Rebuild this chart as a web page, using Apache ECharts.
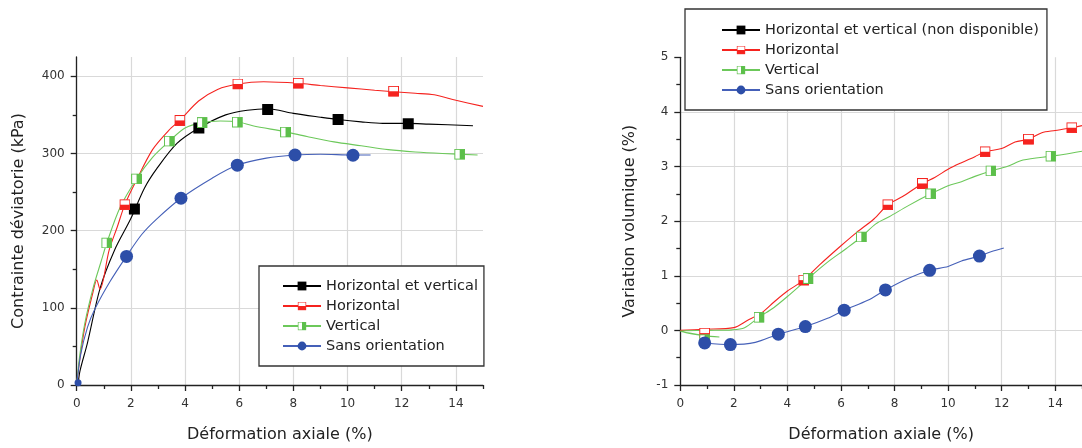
<!DOCTYPE html>
<html>
<head>
<meta charset="utf-8">
<script src="https://cdn.jsdelivr.net/npm/echarts@6/dist/echarts.min.js"></script>
<style>html,body{margin:0;padding:0;background:#fff}#c{width:1082px;height:448px}</style>
</head>
<body>
<div id="c"></div>
<script>
// ---------- DATA ----------
// Left chart: Contrainte déviatorie (kPa) vs Déformation axiale (%)
const namesLeft = ['Horizontal et vertical', 'Horizontal', 'Vertical', 'Sans orientation'];
const namesRight = ['Horizontal et vertical (non disponible)', 'Horizontal', 'Vertical', 'Sans orientation'];

const xTicks = [0, 2, 4, 6, 8, 10, 12, 14];
const xMinorTicks = [1, 3, 5, 7, 9, 11, 13, 15];
const yTicksLeft = [0, 100, 200, 300, 400];
const yMinorTicksLeft = [50, 150, 250, 350];
const yTicksRight = [-1, 0, 1, 2, 3, 4, 5];

const hvCurveL = [[0.05,0],[0.12,18],[0.4,55],[0.86,125],[1.4,175],[1.99,215],[2.5,255],[2.95,280],[3.7,313],[4.51,333],[5.5,350],[6.3,356],[7.05,358],[8,352],[9,347],[9.65,344],[10.5,341],[11.3,339],[12.24,339],[13,338],[14.63,336]];
const hvMarksL = [[2.13,228],[4.51,333],[7.05,357],[9.65,344],[12.24,338.5]];

const hCurveL = [[0,0],[0.1,30],[0.3,75],[0.6,120],[0.74,136],[0.86,124],[1.2,175],[1.5,205],[1.78,234],[2.2,265],[2.8,305],[3.4,330],[3.81,343],[4.5,368],[5.2,383],[5.95,390],[6.9,393],[8.18,391],[9,388],[10,385],[11,382],[11.7,380],[12.5,378],[13.2,376],[14,369],[15,361]];
const hMarksL = [[1.78,233.6],[3.81,342.8],[5.95,390],[8.18,391],[11.7,380.6]];

const vCurveL = [[0,0],[0.1,35],[0.3,80],[0.6,125],[0.9,160],[1.11,184],[1.6,230],[2.21,267],[2.8,295],[3.42,316],[4.0,333],[4.63,340],[5.3,342],[5.93,341],[6.5,336],[7.71,328],[8.5,322],[9.5,315],[10.5,310],[11.5,305],[12.5,302],[13.5,300],[14.8,298]];
const vMarksL = [[1.11,184],[2.21,267],[3.42,316],[4.63,340],[5.93,340.6],[7.71,327.7],[14.14,299]];

const sCurveL = [[0,0],[0.15,40],[0.4,75],[0.68,99],[1.23,134],[1.84,167],[2.4,195],[2.95,215],[3.85,242],[5,268],[5.93,285],[7,294],[8.06,298],[9,299],[10.2,298],[10.85,298]];
const sMarksL = [[0.05,3],[1.84,166.6],[3.85,242],[5.93,284.8],[8.06,298],[10.2,297.7]];

// Right chart: Variation volumique (%) vs Déformation axiale (%)
const hCurveR = [[0,0],[0.91,0.02],[2,0.05],[2.5,0.18],[3.06,0.33],[3.5,0.52],[4,0.72],[4.61,0.92],[5.2,1.2],[6,1.55],[6.6,1.8],[7.23,2.04],[7.75,2.3],[8.3,2.45],[9.04,2.69],[9.5,2.8],[10,2.95],[10.5,3.07],[11,3.18],[11.38,3.27],[12,3.33],[12.5,3.45],[13,3.5],[13.5,3.62],[14,3.66],[14.62,3.71],[15,3.75]];
const hMarksR = [[0.91,-0.05],[4.61,0.92],[7.75,2.3],[9.04,2.69],[11.38,3.27],[13.0,3.5],[14.62,3.71]];

const vCurveR = [[1.46,-0.12],[0.91,-0.1],[0,-0.01],[1,0.0],[1.94,0.01],[2.4,0.05],[2.94,0.24],[3.5,0.42],[4,0.62],[4.77,0.95],[5.5,1.25],[6.2,1.5],[6.76,1.71],[7.3,1.95],[7.8,2.08],[8.5,2.28],[9.35,2.5],[10,2.65],[10.5,2.72],[11,2.82],[11.6,2.92],[12.2,3.0],[12.8,3.12],[13.84,3.19],[14.3,3.22],[15,3.28]];
const vMarksR = [[0.91,-0.17],[2.94,0.24],[4.77,0.95],[6.76,1.71],[9.35,2.5],[11.6,2.92],[13.84,3.19]];

const sCurveR = [[0.91,-0.23],[1.87,-0.26],[2.8,-0.22],[3.66,-0.07],[4.67,0.07],[5.5,0.22],[6.12,0.37],[7,0.55],[7.66,0.74],[8.5,0.95],[9.31,1.1],[10,1.17],[10.5,1.27],[11.17,1.36],[11.6,1.44],[12.08,1.51]];
const sMarksR = [[0.91,-0.23],[1.87,-0.26],[3.66,-0.07],[4.67,0.07],[6.12,0.37],[7.66,0.74],[9.31,1.1],[11.17,1.36]];

// ---------- STYLE ----------
const C_BLACK = '#000000', C_RED = '#f5231f', C_GREEN = '#5cbf4a', C_BLUE = '#2d4ea8';
const C_GREEN_LINE = '#6cc85a', C_BLUE_LINE = '#4560b8';
const FONT = 'DejaVu Sans';

function svgSym(inner) {
  return 'image://data:image/svg+xml;charset=utf-8,' + encodeURIComponent(
    "<svg xmlns='http://www.w3.org/2000/svg' width='40' height='40' viewBox='0 0 40 40'>" + inner + "</svg>");
}
const symH = svgSym("<rect x='2' y='2' width='36' height='36' fill='#fff' stroke='" + C_RED + "' stroke-width='4'/><rect x='2' y='20' width='36' height='18' fill='" + C_RED + "'/>");
const symV = svgSym("<rect x='2' y='2' width='36' height='36' fill='#fff' stroke='" + C_GREEN + "' stroke-width='4'/><rect x='20' y='2' width='18' height='36' fill='" + C_GREEN + "'/>");

const gridL = { left: 76.7, top: 57, width: 406.3, height: 330 };
const gridR = { left: 680.3, top: 57.3, right: -4.4, height: 330 };

const axisLineStyle = { color: '#222', width: 1.3 };
const labelStyle = { color: '#333', fontFamily: FONT, fontSize: 12 };
const nameStyle = { color: '#222', fontFamily: FONT, fontSize: 16 };

function xMain(gi) {
  return {
    type: 'value', gridIndex: gi, min: 0, max: 15, position: 'bottom',
    name: 'Déformation axiale (%)', nameLocation: 'middle', nameGap: 42, nameTextStyle: nameStyle,
    axisLine: { show: true, onZero: false, lineStyle: axisLineStyle },
    axisTick: { show: true, inside: false, length: 6, lineStyle: axisLineStyle, customValues: xTicks },
    axisLabel: { margin: 13, customValues: xTicks, ...labelStyle },
    splitLine: { show: true, lineStyle: { color: '#d9d9d9', width: 1.2 } }
  };
}
function xMinor(gi) {
  return {
    type: 'value', gridIndex: gi, min: 0, max: 15, position: 'bottom', offset: 0,
    axisLine: { show: false, onZero: false },
    axisTick: { show: true, length: 4, lineStyle: axisLineStyle, customValues: xMinorTicks },
    axisLabel: { show: false }, splitLine: { show: false }
  };
}

const series = [];
function addPair(name, curve, marks, color, lineColor, symbol, size, xi, yi) {
  series.push({
    type: 'line', name: name, data: curve, xAxisIndex: xi, yAxisIndex: yi,
    smooth: 0.3, showSymbol: false, symbol: symbol, symbolSize: size,
    lineStyle: { color: lineColor, width: 1.1 }, itemStyle: { color: color },
    emphasis: { disabled: true }, z: 2, animation: false
  });
  if (marks) series.push({
    type: 'scatter', name: name, data: marks, xAxisIndex: xi, yAxisIndex: yi,
    symbol: symbol, symbolSize: size, itemStyle: { color: color, opacity: 1 },
    emphasis: { disabled: true }, z: 3, animation: false
  });
}

// left
addPair(namesLeft[0], hvCurveL, hvMarksL, C_BLACK, C_BLACK, 'rect', 11, 0, 0);
addPair(namesLeft[1], hCurveL, hMarksL, C_RED, C_RED, symH, 11, 0, 0);
addPair(namesLeft[2], vCurveL, vMarksL, C_GREEN, C_GREEN_LINE, symV, 11, 0, 0);
series.push({
  type: 'line', name: namesLeft[3], data: sCurveL, xAxisIndex: 0, yAxisIndex: 0,
  smooth: 0.3, showSymbol: false, symbol: 'circle', symbolSize: 13,
  lineStyle: { color: C_BLUE_LINE, width: 1.1 }, itemStyle: { color: C_BLUE },
  emphasis: { disabled: true }, z: 2, animation: false
});
series.push({
  type: 'scatter', name: namesLeft[3], data: sMarksL, xAxisIndex: 0, yAxisIndex: 0,
  symbol: 'circle', symbolSize: (v, p) => p.dataIndex === 0 ? 7 : 13,
  itemStyle: { color: C_BLUE, opacity: 1 }, emphasis: { disabled: true }, z: 3, animation: false
});
// right
series.push({
  type: 'line', name: namesRight[0], data: [], xAxisIndex: 2, yAxisIndex: 2,
  symbol: 'rect', symbolSize: 11, lineStyle: { color: C_BLACK, width: 1.1 }, itemStyle: { color: C_BLACK }, animation: false
});
addPair(namesRight[1], hCurveR, hMarksR, C_RED, C_RED, symH, 11, 2, 2);
addPair(namesRight[2], vCurveR, vMarksR, C_GREEN, C_GREEN_LINE, symV, 11, 2, 2);
addPair(namesRight[3], sCurveR, sMarksR, C_BLUE, C_BLUE_LINE, 'circle', 13, 2, 2);

const legendBase = {
  orient: 'vertical', backgroundColor: '#fff', borderColor: '#333', borderWidth: 1.3, borderRadius: 0,
  itemWidth: 38, itemHeight: 11, itemGap: 4, selectedMode: false,
  textStyle: { fontFamily: FONT, fontSize: 14.5, color: '#222', lineHeight: 16 },
};

const option = {
  backgroundColor: '#fff',
  animation: false,
  grid: [gridL, gridR],
  legend: [
    { ...legendBase, left: 259, top: 266, padding: [12, 6, 12, 23], data: namesLeft },
    { ...legendBase, left: 685, top: 9, padding: [13, 8, 12, 36], data: namesRight }
  ],
  xAxis: [xMain(0), xMinor(0), xMain(1), xMinor(1)],
  yAxis: [
    {
      type: 'value', gridIndex: 0, min: 0, max: 425, position: 'left',
      name: 'Contrainte déviatorie (kPa)', nameLocation: 'middle', nameGap: 50, nameTextStyle: nameStyle,
      axisLine: { show: true, onZero: false, lineStyle: axisLineStyle },
      axisTick: { show: true, length: 6, lineStyle: axisLineStyle, customValues: yTicksLeft },
      axisLabel: { margin: 12, customValues: yTicksLeft, ...labelStyle },
      splitLine: { show: true, lineStyle: { color: '#d9d9d9', width: 1.2 } }
    },
    {
      type: 'value', gridIndex: 0, min: 0, max: 425, position: 'left', offset: 0,
      axisLine: { show: false, onZero: false },
      axisTick: { show: true, length: 4, lineStyle: axisLineStyle, customValues: yMinorTicksLeft },
      axisLabel: { show: false }, splitLine: { show: false }
    },
    {
      type: 'value', gridIndex: 1, min: -1, max: 5, interval: 1, position: 'left',
      name: 'Variation volumique (%)', nameLocation: 'middle', nameGap: 42, nameTextStyle: nameStyle,
      axisLine: { show: true, onZero: false, lineStyle: axisLineStyle },
      axisTick: { show: true, length: 6, lineStyle: axisLineStyle, customValues: yTicksRight },
      minorTick: { show: true, splitNumber: 2, length: 4, lineStyle: axisLineStyle },
      axisLabel: { margin: 12, customValues: yTicksRight, ...labelStyle },
      splitLine: { show: true, lineStyle: { color: ['#d9d9d9','#d9d9d9','#d9d9d9','#d9d9d9','#d9d9d9','#d9d9d9','rgba(0,0,0,0)'], width: 1.2 } }
    }
  ],
  series: series
};

const chart = echarts.init(document.getElementById('c'), null, { renderer: 'canvas' });
chart.setOption(option);
</script>
</body>
</html>
